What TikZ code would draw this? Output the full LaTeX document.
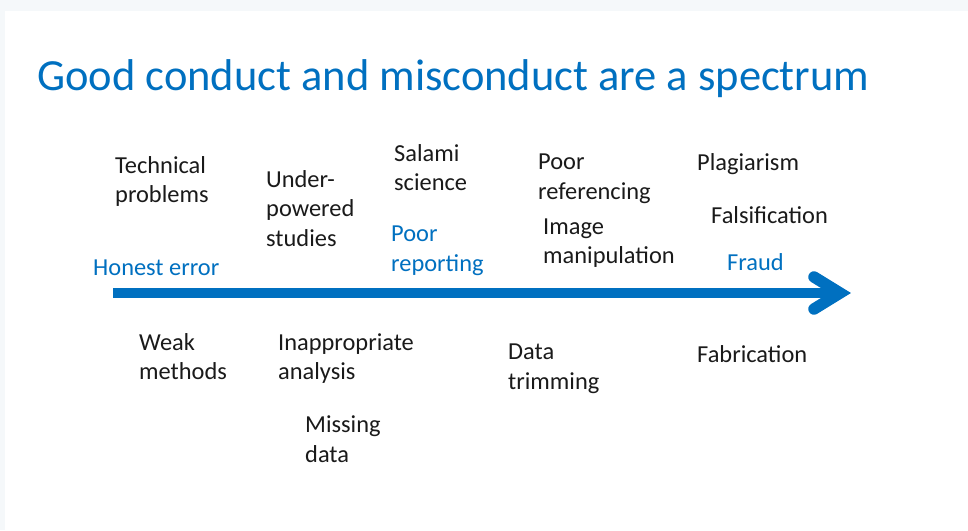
\documentclass[tikz,border=0pt]{standalone}
\usepackage{fontspec}
\setmainfont{Carlito}
\definecolor{slideblue}{HTML}{0070C0}
\definecolor{pagebg}{HTML}{F5F8FA}
\definecolor{txt}{HTML}{1A1A1A}
\begin{document}
\begin{tikzpicture}[x=1pt,y=-1pt,
  lbl/.style={anchor=base west,inner sep=0pt,align=left,text=txt,font=\fontsize{24.4}{29.5}\selectfont},
  bluelbl/.style={lbl,text=slideblue},
  ttl/.style={anchor=base west,inner sep=0pt,text=slideblue,font=\fontsize{44.5}{50}\selectfont}]
\useasboundingbox (0,0) rectangle (968,530);
\fill[pagebg] (0,0) rectangle (968,530);
\fill[white] (5,11) rectangle (968,530);
\node[ttl] (title) at (37,90) {Good conduct and misconduct are a spectrum};
% arrow
\coordinate (start) at (113,293);
\coordinate (tip) at (840,293);
\coordinate (armup) at (814,277);
\coordinate (armdn) at (814,309);
\draw[slideblue,line width=10pt] (start) -- (tip);
\draw[slideblue,line width=11.5pt,line cap=round,line join=miter] (armup) -- (tip) -- (armdn);
% labels above (anchor at baseline of last line)
\node[bluelbl] (honest) at (93,275) {Honest error};
\node[lbl] (tech) at (115,202.5) {Technical\\problems};
\node[lbl] (under) at (266,246) {Under-\\powered\\studies};
\node[lbl] (salami) at (394,190.5) {Salami\\science};
\node[bluelbl] (poorrep) at (391,271) {Poor\\reporting};
\node[lbl] (poorref) at (538,199) {Poor\\referencing};
\node[lbl] (image) at (543,263.5) {Image\\manipulation};
\node[lbl] (plag) at (697,170) {Plagiarism};
\node[lbl] (fals) at (711,223) {Falsification};
\node[bluelbl] (fraud) at (727,270) {Fraud};
% labels below
\node[lbl] (weak) at (139,379.5) {Weak\\methods};
\node[lbl] (inapp) at (278,379.5) {Inappropriate\\analysis};
\node[lbl] (missing) at (305,462) {Missing\\data};
\node[lbl] (trim) at (508,389) {Data\\trimming};
\node[lbl] (fab) at (697,362) {Fabrication};
\end{tikzpicture}
\end{document}
